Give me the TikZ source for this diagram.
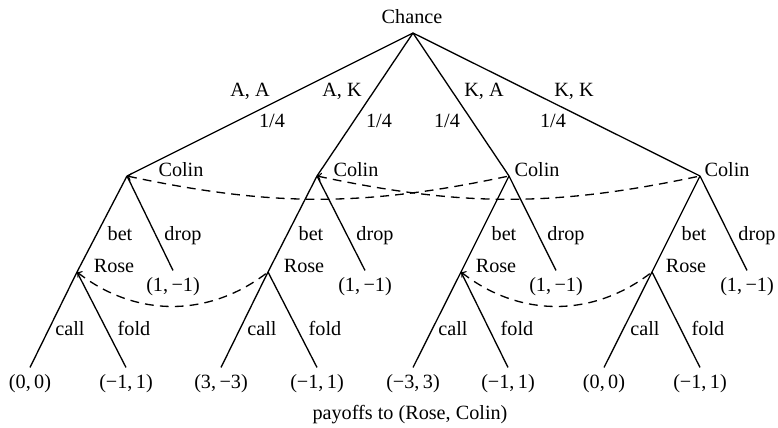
\documentclass[tikz,border=0pt]{standalone}
\usepackage{fontspec}
\setmainfont{Liberation Serif}
\usepackage{tikz}
\usetikzlibrary{arrows}
\tikzstyle{lbl} = [anchor=base]
\tikzstyle{infoset} = [<-,>=to,dash pattern=on 5pt off 3.5pt]

\begin{document}
\begin{tikzpicture}[scale=1,font=\fontsize{11.5}{13.8}\selectfont,line width=0.75pt]
\useasboundingbox (0,0) rectangle (15.56,8.54);

\coordinate (ch) at (8.26,7.88);
\draw(8.24,8.06) node[lbl] (chance) {Chance};

%% Colin's nodes
\coordinate (c1) at (2.54,5.02);
\coordinate (c2) at (6.34,5.02);
\coordinate (c3) at (10.18,5.02);
\coordinate (c4) at (14.00,5.02);
\draw(3.62,5.00) node[lbl] (colin1) {Colin};
\draw(7.12,5.00) node[lbl] (colin2) {Colin};
\draw(10.74,5.00) node[lbl] (colin3) {Colin};
\draw(14.54,5.00) node[lbl] (colin4) {Colin};

\draw (ch) -- (c1);
\draw (ch) -- (c2);
\draw (ch) -- (c3);
\draw (ch) -- (c4);
\draw(5.00,6.60) node[lbl] (aa) {A, A};
\draw(6.84,6.60) node[lbl] (ak) {A, K};
\draw(9.68,6.60) node[lbl] (ka) {K, A};
\draw(11.48,6.60) node[lbl] (kk) {K, K};
\draw(5.44,5.98) node[lbl] (pr1) {1/4};
\draw(7.58,5.98) node[lbl] (pr2) {1/4};
\draw(8.94,5.98) node[lbl] (pr3) {1/4};
\draw(11.06,5.98) node[lbl] (pr4) {1/4};

%% Rose's nodes
\coordinate (r1) at (1.54,3.10);
\coordinate (r2) at (5.36,3.10);
\coordinate (r3) at (9.22,3.10);
\coordinate (r4) at (13.04,3.10);
\draw(2.28,3.10) node[lbl] (rose1) {Rose};
\draw(6.08,3.10) node[lbl] (rose2) {Rose};
\draw(9.92,3.10) node[lbl] (rose3) {Rose};
\draw(13.72,3.10) node[lbl] (rose4) {Rose};

\draw(3.46,2.72) node[lbl] (d1) {(1,\,−1)};
\draw(7.30,2.72) node[lbl] (d2) {(1,\,−1)};
\draw(11.12,2.72) node[lbl] (d3) {(1,\,−1)};
\draw(14.94,2.72) node[lbl] (d4) {(1,\,−1)};

\draw (c1) -- (r1);
\draw (c2) -- (r2);
\draw (c3) -- (r3);
\draw (c4) -- (r4);
\draw (c1) -- (d1.north);
\draw (c2) -- (d2.north);
\draw (c3) -- (d3.north);
\draw (c4) -- (d4.north);
\draw(2.40,3.74) node[lbl] (bet1) {bet};
\draw(6.22,3.74) node[lbl] (bet2) {bet};
\draw(10.08,3.74) node[lbl] (bet3) {bet};
\draw(13.88,3.74) node[lbl] (bet4) {bet};
\draw(3.66,3.74) node[lbl] (drop1) {drop};
\draw(7.50,3.74) node[lbl] (drop2) {drop};
\draw(11.32,3.74) node[lbl] (drop3) {drop};
\draw(15.14,3.74) node[lbl] (drop4) {drop};

%% payoffs
\draw(0.60,0.78) node[lbl] (p1) {(0,\,0)};
\draw(2.52,0.78) node[lbl] (p2) {(−1,\,1)};
\draw(4.42,0.78) node[lbl] (p3) {(3,\,−3)};
\draw(6.34,0.78) node[lbl] (p4) {(−1,\,1)};
\draw(8.26,0.78) node[lbl] (p5) {(−3,\,3)};
\draw(10.16,0.78) node[lbl] (p6) {(−1,\,1)};
\draw(12.08,0.78) node[lbl] (p7) {(0,\,0)};
\draw(14.00,0.78) node[lbl] (p8) {(−1,\,1)};

\draw (r1) -- (p1.north);
\draw (r1) -- (p2.north);
\draw (r2) -- (p3.north);
\draw (r2) -- (p4.north);
\draw (r3) -- (p5.north);
\draw (r3) -- (p6.north);
\draw (r4) -- (p7.north);
\draw (r4) -- (p8.north);
\draw(1.40,1.84) node[lbl] (call1) {call};
\draw(5.24,1.84) node[lbl] (call2) {call};
\draw(9.06,1.84) node[lbl] (call3) {call};
\draw(12.90,1.84) node[lbl] (call4) {call};
\draw(2.68,1.84) node[lbl] (fold1) {fold};
\draw(6.50,1.84) node[lbl] (fold2) {fold};
\draw(10.34,1.84) node[lbl] (fold3) {fold};
\draw(14.16,1.84) node[lbl] (fold4) {fold};

%% information sets
\draw[infoset] (c1) to[bend right=12] (c3);
\draw[infoset] (c2) to[bend right=12] (c4);
\draw[infoset] (r1) to[bend right=38] (r2);
\draw[infoset] (r3) to[bend right=38] (r4);

\draw(8.20,0.16) node[lbl] (caption) {payoffs to (Rose, Colin)};

\end{tikzpicture}
\end{document}
